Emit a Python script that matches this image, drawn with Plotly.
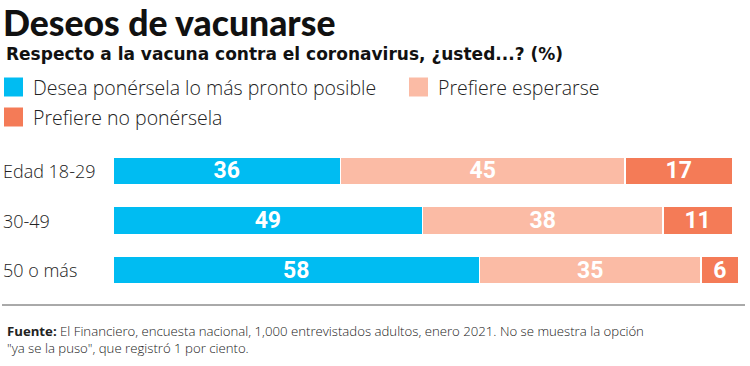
import plotly.graph_objects as go

categories = ["Edad 18-29", "30-49", "50 o más"]
series_names = ["Desea ponérsela lo más pronto posible", "Prefiere esperarse", "Prefiere no ponérsela"]
desea = [36, 49, 58]
esperarse = [45, 38, 35]
no_ponersela = [17, 11, 6]
colors = ["#00BCF2", "#FBBBA5", "#F47B57"]

title = "Deseos de vacunarse"
subtitle = "Respecto a la vacuna contra el coronavirus, ¿usted...? (%)"
source_bold = "Fuente:"
source_text = (" El Financiero, encuesta nacional, 1,000 entrevistados adultos, enero 2021. No se muestra la opción"
               "<br>\"ya se la puso\", que registró 1 por ciento.")

W, H = 750, 366
ML, MR, MT, MB = 113, 5, 146, 71
PW = W - ML - MR
PH = H - MT - MB

def px(x):
    return (x - ML) / PW

def py(y):
    return (H - MB - y) / PH

LIGHT = "'Open Sans', Lato, sans-serif"
BOLD = "Lato, Roboto, sans-serif"
SUB = "'DejaVu Sans', 'Open Sans', sans-serif"
NUM = "Roboto, 'Liberation Sans Narrow', sans-serif"

fig = go.Figure()
for name, vals, col in zip(series_names, [desea, esperarse, no_ponersela], colors):
    fig.add_trace(go.Bar(
        y=categories, x=vals, name=name, orientation="h",
        marker=dict(color=col, line=dict(color="white", width=1.5)),
        width=0.56,
        text=[str(v) for v in vals], textposition="inside", insidetextanchor="middle",
        textangle=0, constraintext="none",
        textfont=dict(color="white", size=23, family=NUM, weight="bold"),
        showlegend=False,
    ))

annotations = []
shapes = []

annotations.append(dict(text=title, x=px(1), y=py(1), xref="paper", yref="paper",
                        xanchor="left", yanchor="top", showarrow=False, height=38, valign="middle",
                        font=dict(size=35.5, family=BOLD, color="#111", weight=900)))
annotations.append(dict(text=subtitle, x=px(4), y=py(54), xref="paper", yref="paper",
                        xanchor="left", yanchor="middle", showarrow=False,
                        font=dict(size=17, family=SUB, color="#111", weight="bold")))

legend_pos = [(4, 87), (409, 87), (4, 117)]
for (lx, ly), name, col in zip(legend_pos, series_names, colors):
    shapes.append(dict(type="rect", xref="paper", yref="paper",
                       x0=px(lx), x1=px(lx + 19), y0=py(ly - 9.5), y1=py(ly + 9.5),
                       fillcolor=col, line=dict(width=0)))
    annotations.append(dict(text=name, x=px(lx + 27), y=py(ly), xref="paper", yref="paper",
                            xanchor="left", yanchor="middle", showarrow=False,
                            font=dict(size=19.5, family=LIGHT, color="#222", weight=300)))

for c in categories:
    annotations.append(dict(text=c, x=px(1), y=c, xref="paper", yref="y",
                            xanchor="left", yanchor="middle", showarrow=False,
                            font=dict(size=18, family=LIGHT, color="#222", weight=300)))

shapes.append(dict(type="line", xref="paper", yref="paper",
                   x0=px(2), x1=px(745), y0=py(305), y1=py(305),
                   line=dict(color="#555", width=1)))

annotations.append(dict(text="<b>" + source_bold + "</b>" + source_text,
                        x=px(5), y=py(339), xref="paper", yref="paper",
                        xanchor="left", yanchor="middle", align="left", showarrow=False,
                        font=dict(size=13.2, family=LIGHT, color="#222", weight=300)))

fig.update_layout(
    barmode="stack", width=W, height=H,
    margin=dict(l=ML, r=MR, t=MT, b=MB),
    paper_bgcolor="white", plot_bgcolor="white",
    xaxis=dict(range=[0, 100], visible=False, fixedrange=True),
    yaxis=dict(categoryorder="array", categoryarray=categories, autorange="reversed",
               showticklabels=False, showgrid=False, zeroline=False, fixedrange=True),
    annotations=annotations, shapes=shapes,
)

fig.write_html("out.html", config={"displayModeBar": False},
               post_script="document.body.style.margin='0';document.body.style.padding='0';")
